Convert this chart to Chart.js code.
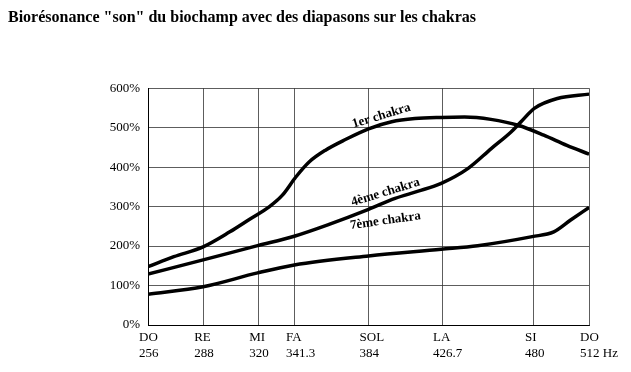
<!DOCTYPE html>
<html>
<head>
<meta charset="utf-8">
<script src="https://cdn.jsdelivr.net/npm/chart.js@4.4.0/dist/chart.umd.min.js"></script>
<style>
  html, body { margin: 0; padding: 0; background: #fff; }
  #wrap { width: 631px; height: 372px; }
</style>
</head>
<body>
<div id="wrap"><canvas id="c" width="631" height="372"></canvas></div>
<script>
// ---- Data ----
const notes = ['DO', 'RE', 'MI', 'FA', 'SOL', 'LA', 'SI', 'DO'];
const freqs = [256, 288, 320, 341.3, 384, 426.7, 480, 512];
const freqLabels = ['256', '288', '320', '341.3', '384', '426.7', '480', '512 Hz'];
const yTicks = [0, 100, 200, 300, 400, 500, 600];

const chakra1Freq = [256, 271, 288, 303.5, 315, 326.5, 334, 341.8, 349.5, 359, 370.6, 384, 397.4, 410.9, 426.2, 439.7, 455, 470.8, 485.7, 499.1, 512];
const chakra1Val  = [148, 173, 198, 236, 268, 300, 329, 375, 413, 443, 470, 497, 515, 523, 526, 527, 521, 506, 481, 455, 433];

const chakra4Freq = [256, 288, 319.6, 340.9, 361.1, 384, 399.4, 412.8, 426.2, 441.8, 455.2, 466.7, 472.5, 480.2, 493.6, 512];
const chakra4Val  = [129, 165, 201, 225, 255, 293, 321, 339, 359, 397, 447, 489, 515, 549, 574, 585];

const chakra7Freq = [256, 288, 319.6, 340.9, 384, 426.2, 447.3, 479, 491.5, 501.3, 512];
const chakra7Val  = [78, 97, 132, 152, 175, 192, 201, 224, 236, 266, 298];

const seriesNames = ['1er chakra', '4ème chakra', '7ème chakra'];

function pts(xs, ys) { return xs.map((x, i) => ({ x: x, y: ys[i] })); }

// Label placement for the curve names (data coordinates + angle)
const curveLabels = [
  { text: seriesNames[0], x: 391.5, y: 530, angle: -17 },
  { text: seriesNames[1], x: 393.8, y: 336, angle: -17 },
  { text: seriesNames[2], x: 393.8, y: 264, angle: -8 }
];

const SERIF = '"Liberation Serif", "DejaVu Serif", serif';

const curveLabelPlugin = {
  id: 'curveLabels',
  afterDatasetsDraw(chart) {
    const ctx = chart.ctx;
    const xs = chart.scales.x, ys = chart.scales.y;
    ctx.save();
    ctx.fillStyle = '#000';
    ctx.font = 'bold 13px ' + SERIF;
    ctx.textAlign = 'center';
    ctx.textBaseline = 'middle';
    curveLabels.forEach(l => {
      const px = xs.getPixelForValue(l.x);
      const py = ys.getPixelForValue(l.y);
      ctx.save();
      ctx.translate(px, py);
      ctx.rotate(l.angle * Math.PI / 180);
      ctx.fillText(l.text, 0, 0);
      ctx.restore();
    });
    ctx.restore();
  }
};

const lineStyle = {
  borderColor: '#000',
  borderWidth: 3.5,
  pointRadius: 0,
  fill: false,
  cubicInterpolationMode: 'monotone'
};

new Chart(document.getElementById('c'), {
  type: 'line',
  data: {
    datasets: [
      Object.assign({ label: seriesNames[0], data: pts(chakra1Freq, chakra1Val) }, lineStyle),
      Object.assign({ label: seriesNames[1], data: pts(chakra4Freq, chakra4Val) }, lineStyle),
      Object.assign({ label: seriesNames[2], data: pts(chakra7Freq, chakra7Val) }, lineStyle)
    ]
  },
  options: {
    responsive: false,
    animation: false,
    layout: { padding: { left: 8, right: 39, top: 8, bottom: 0 } },
    plugins: {
      legend: { display: false },
      tooltip: { enabled: false },
      title: {
        display: true,
        text: 'Biorésonance "son" du biochamp avec des diapasons sur les chakras',
        align: 'start',
        color: '#000',
        font: { family: SERIF, size: 16, weight: 'bold' },
        padding: { top: 0, bottom: 61 }
      }
    },
    scales: {
      x: {
        type: 'linear',
        min: 256,
        max: 512,
        afterBuildTicks(scale) { scale.ticks = freqs.map(v => ({ value: v })); },
        afterFit(scale) { scale.height = 47; },
        grid: { color: '#333', lineWidth: 0.8, drawTicks: false },
        border: { color: '#000', width: 1 },
        ticks: {
          autoSkip: false,
          maxRotation: 0,
          minRotation: 0,
          align: 'start',
          labelOffset: -9,
          padding: 4,
          color: '#000',
          font: { family: SERIF, size: 13, lineHeight: 1.25 },
          callback(value, index) { return [notes[index], freqLabels[index]]; }
        }
      },
      y: {
        min: 0,
        max: 600,
        afterBuildTicks(scale) { scale.ticks = yTicks.map(v => ({ value: v })); },
        afterFit(scale) { scale.width = 140; },
        grid: { color: '#333', lineWidth: 0.8, drawTicks: false },
        border: { color: '#000', width: 1 },
        ticks: {
          padding: 8,
          color: '#000',
          font: { family: SERIF, size: 13 },
          callback(value) { return value + '%'; }
        }
      }
    }
  },
  plugins: [curveLabelPlugin]
});
</script>
</body>
</html>
